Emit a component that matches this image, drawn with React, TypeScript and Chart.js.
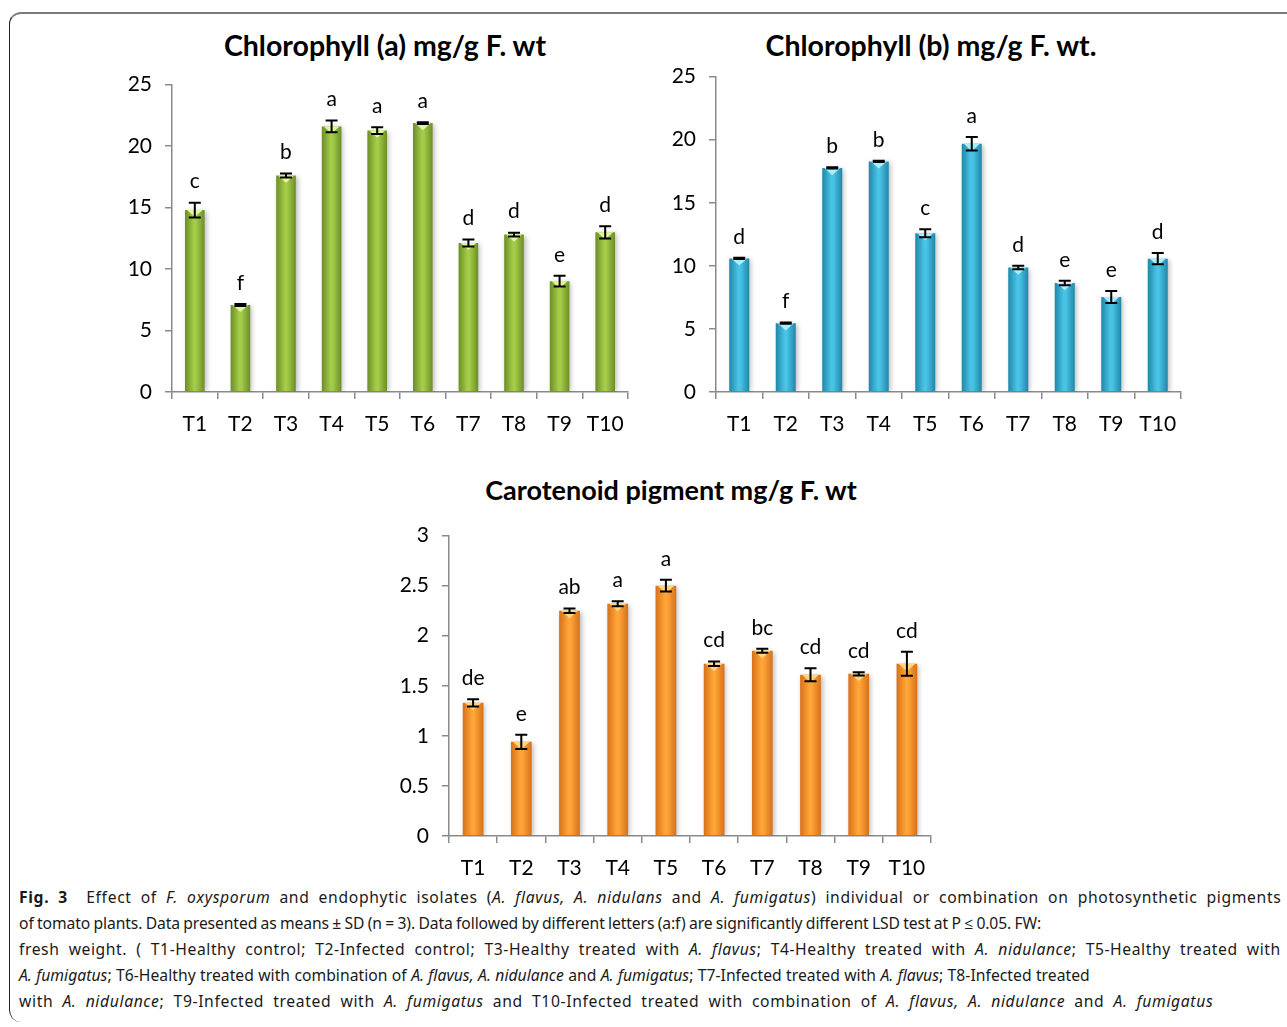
import React, { useEffect, useLayoutEffect, useRef } from "react";
import { Chart, registerables } from "chart.js";

Chart.register(...registerables);

const categories = ["T1", "T2", "T3", "T4", "T5", "T6", "T7", "T8", "T9", "T10"];

const chlAValues = [14.8, 7.08, 17.6, 21.6, 21.26, 21.87, 12.12, 12.8, 9.01, 12.99];
const chlAErrors = [0.6, 0.08, 0.16, 0.48, 0.27, 0.07, 0.28, 0.16, 0.44, 0.5];
const chlALetters = ["c", "f", "b", "a", "a", "a", "d", "d", "e", "d"];

const chlBValues = [10.59, 5.45, 17.76, 18.28, 12.59, 19.68, 9.86, 8.64, 7.53, 10.57];
const chlBErrors = [0.05, 0.05, 0.05, 0.05, 0.32, 0.53, 0.14, 0.17, 0.47, 0.45];
const chlBLetters = ["d", "f", "b", "b", "c", "a", "d", "e", "e", "d"];

const carValues = [1.33, 0.94, 2.25, 2.32, 2.5, 1.72, 1.85, 1.61, 1.62, 1.72];
const carErrors = [0.036, 0.07, 0.023, 0.025, 0.058, 0.023, 0.02, 0.065, 0.016, 0.12];
const carLetters = ["de", "e", "ab", "a", "a", "cd", "bc", "cd", "cd", "cd"];

const chlAxisMax = 25;
const chlAxisStep = 5;
const carAxisMax = 3;
const carAxisStep = 0.5;

const FONT = "Lato, 'Open Sans', sans-serif";
const AXIS = "#8a8a8a";

type Palette = { edge: string; mid: string; hi: string };
const GREEN: Palette = { edge: "#6c8e26", mid: "#a4cc48", hi: "#e2f7a2" };
const BLUE: Palette = { edge: "#1f87a8", mid: "#49c4e6", hi: "#a8eefc" };
const ORANGE: Palette = { edge: "#d6701a", mid: "#ffa537", hi: "#ffd57e" };

type PanelProps = {
  left: number;
  top: number;
  width: number;
  height: number;
  yWidth: number;
  padTop: number;
  padRight: number;
  values: number[];
  errors: number[];
  letters: string[];
  max: number;
  step: number;
  palette: Palette;
};

const BAR_PCT = 0.43;

function BarPanel(p: PanelProps) {
  const ref = useRef<HTMLCanvasElement | null>(null);
  useEffect(() => {
    const canvas = ref.current;
    if (!canvas) return;
    const n = p.values.length;
    const overlay = {
      id: "overlay",
      beforeDatasetsDraw(chart: any) {
        const ctx = chart.ctx;
        ctx.save();
        ctx.shadowColor = "rgba(0,0,0,0.28)";
        ctx.shadowBlur = 5;
        ctx.shadowOffsetX = 2;
        ctx.shadowOffsetY = 1;
      },
      afterDatasetsDraw(chart: any) {
        const ctx = chart.ctx;
        ctx.restore();
        const meta = chart.getDatasetMeta(0);
        const ys = chart.scales.y;
        meta.data.forEach((el: any, i: number) => {
          const { x, y, width } = el.getProps(["x", "y", "width"], true);
          ctx.save();
          ctx.fillStyle = p.palette.hi;
          ctx.beginPath();
          ctx.moveTo(x - width / 2 + 2, y);
          ctx.lineTo(x + width / 2 - 2, y);
          ctx.lineTo(x, y + width * 0.36);
          ctx.closePath();
          ctx.fill();
          ctx.restore();
          const v = p.values[i];
          const e = p.errors[i];
          const t = ys.getPixelForValue(v + e);
          const b = ys.getPixelForValue(v - e);
          ctx.save();
          ctx.strokeStyle = "#000";
          ctx.lineWidth = 2;
          ctx.beginPath();
          ctx.moveTo(x, t);
          ctx.lineTo(x, b);
          ctx.moveTo(x - 6, t);
          ctx.lineTo(x + 6, t);
          ctx.moveTo(x - 6, b);
          ctx.lineTo(x + 6, b);
          ctx.stroke();
          ctx.fillStyle = "#000";
          ctx.font = `21px ${FONT}`;
          ctx.textAlign = "center";
          ctx.textBaseline = "middle";
          ctx.fillText(p.letters[i], x, t - 21);
          ctx.restore();
        });
      },
    };
    const chart = new Chart(canvas, {
      type: "bar",
      data: {
        labels: categories,
        datasets: [
          {
            data: p.values,
            backgroundColor: (c: any) => {
              const ch = c.chart;
              const xs = ch.scales && ch.scales.x;
              if (!xs || c.dataIndex === undefined || !xs.width) return p.palette.mid;
              const px = xs.getPixelForValue(c.dataIndex);
              const w = (xs.width / n) * BAR_PCT;
              const g = ch.ctx.createLinearGradient(px - w / 2, 0, px + w / 2, 0);
              g.addColorStop(0, p.palette.edge);
              g.addColorStop(0.45, p.palette.mid);
              g.addColorStop(0.55, p.palette.mid);
              g.addColorStop(1, p.palette.edge);
              return g;
            },
            borderWidth: 0,
            barPercentage: BAR_PCT,
            categoryPercentage: 1,
          },
        ],
      },
      options: {
        responsive: false,
        animation: false,
        devicePixelRatio: 1,
        events: [],
        layout: { padding: { left: 0, right: p.padRight, top: p.padTop, bottom: 0 } },
        plugins: {
          legend: { display: false },
          tooltip: { enabled: false },
          title: { display: false },
        },
        scales: {
          x: {
            offset: true,
            grid: {
              offset: true,
              drawOnChartArea: false,
              drawTicks: true,
              tickLength: 7,
              color: AXIS,
              lineWidth: 1.5,
            },
            border: { color: AXIS, width: 1.5 },
            ticks: {
              color: "#000",
              font: { family: FONT, size: 21 },
              padding: 13,
              maxRotation: 0,
              autoSkip: false,
            },
            afterFit: (s: any) => {
              s.height = 47;
            },
          },
          y: {
            min: 0,
            max: p.max,
            ticks: {
              stepSize: p.step,
              color: "#000",
              font: { family: FONT, size: 21 },
              padding: 13,
              callback: (v: any) => String(Number(v)),
            },
            grid: {
              drawOnChartArea: false,
              drawTicks: true,
              tickLength: 7,
              color: AXIS,
              lineWidth: 1.5,
            },
            border: { color: AXIS, width: 1.5 },
            afterFit: (s: any) => {
              s.width = p.yWidth;
            },
          },
        },
      } as any,
      plugins: [overlay],
    });
    const fonts: any = (document as any).fonts;
    if (fonts && fonts.load) {
      Promise.all([fonts.load(`21px Lato`), fonts.load(`bold 21px Lato`)])
        .then(() => {
          if ((chart as any).ctx) chart.update();
        })
        .catch(() => {});
    }
    return () => chart.destroy();
  }, []);
  return (
    <canvas
      ref={ref}
      width={p.width}
      height={p.height}
      style={{ position: "absolute", left: p.left, top: p.top, width: p.width, height: p.height }}
    />
  );
}

const titleStyle = (cx: number, cy: number, size: number): React.CSSProperties => ({
  position: "absolute",
  left: cx,
  top: cy - 16,
  height: 32,
  lineHeight: "32px",
  transform: "translateX(-50%)",
  whiteSpace: "nowrap",
  fontFamily: FONT,
  fontWeight: 700,
  fontSize: size,
  color: "#000",
});

const CAP_FONT = "'Noto Sans', 'Open Sans', sans-serif";

const captionWidths = [1262, 1022, 1262, 1071, 1194];

function CaptionLine(props: { target: number; children: React.ReactNode }) {
  const ref = useRef<HTMLSpanElement | null>(null);
  useLayoutEffect(() => {
    const el = ref.current;
    if (!el) return;
    const apply = () => {
      el.style.letterSpacing = "0px";
      el.style.wordSpacing = "0px";
      const w = el.offsetWidth;
      const text = el.textContent || "";
      const nChars = text.length;
      const nSpaces = (text.match(/\s/g) || []).length || 1;
      if (w > 0 && nChars > 0) {
        const adj = props.target - w;
        const ls = (adj * 0.5) / nChars;
        el.style.letterSpacing = `${ls}px`;
        el.style.wordSpacing = `${(adj * 0.5) / nSpaces}px`;
      }
    };
    apply();
    const fonts: any = (document as any).fonts;
    if (fonts && fonts.ready) fonts.ready.then(apply);
  }, []);
  return (
    <div style={{ height: 26, lineHeight: "26px", whiteSpace: "nowrap" }}>
      <span ref={ref} style={{ display: "inline-block" }}>
        {props.children}
      </span>
    </div>
  );
}

export default function App() {
  return (
    <div
      style={{
        position: "absolute",
        left: 0,
        top: 0,
        width: 1287,
        height: 1027,
        overflow: "hidden",
        background: "#fff",
      }}
    >
      <div
        style={{
          position: "absolute",
          left: 9,
          top: 12,
          width: 1320,
          height: 1010,
          borderLeft: "1.5px solid #222",
          borderTop: "2px solid #7a7a7a",
          borderTopLeftRadius: 12,
          borderBottomLeftRadius: 12,
          boxSizing: "border-box",
        }}
      />
      <div style={titleStyle(385, 45, 28.5)}>Chlorophyll (a) mg/g F. wt</div>
      <div style={titleStyle(931, 45, 28.5)}>Chlorophyll (b) mg/g F. wt.</div>
      <div style={titleStyle(671, 490, 27)}>Carotenoid pigment mg/g F. wt</div>

      <BarPanel
        left={90}
        top={59}
        width={570}
        height={380}
        yWidth={82}
        padTop={18}
        padRight={32}
        values={chlAValues}
        errors={chlAErrors}
        letters={chlALetters}
        max={chlAxisMax}
        step={chlAxisStep}
        palette={GREEN}
      />
      <BarPanel
        left={636}
        top={51}
        width={575}
        height={388}
        yWidth={80}
        padTop={20}
        padRight={30}
        values={chlBValues}
        errors={chlBErrors}
        letters={chlBLetters}
        max={chlAxisMax}
        step={chlAxisStep}
        palette={BLUE}
      />
      <BarPanel
        left={360}
        top={510}
        width={600}
        height={373}
        yWidth={89}
        padTop={18}
        padRight={29}
        values={carValues}
        errors={carErrors}
        letters={carLetters}
        max={carAxisMax}
        step={carAxisStep}
        palette={ORANGE}
      />

      <div
        style={{
          position: "absolute",
          left: 19,
          top: 884,
          width: 1290,
          fontFamily: CAP_FONT,
          fontSize: 15.7,
          color: "#1a1a1a",
        }}
      >
        <CaptionLine target={captionWidths[0]}>
          <b>Fig. 3</b>&nbsp; Effect of <i>F. oxysporum</i> and endophytic isolates (<i>A. flavus, A. nidulans</i> and{" "}
          <i>A. fumigatus</i>) individual or combination on photosynthetic pigments
        </CaptionLine>
        <CaptionLine target={captionWidths[1]}>
          of tomato plants. Data presented as means ± SD (n = 3). Data followed by different letters (a:f) are
          significantly different LSD test at P ≤ 0.05. FW:
        </CaptionLine>
        <CaptionLine target={captionWidths[2]}>
          fresh weight. ( T1-Healthy control; T2-Infected control; T3-Healthy treated with <i>A. flavus</i>; T4-Healthy
          treated with <i>A. nidulance</i>; T5-Healthy treated with
        </CaptionLine>
        <CaptionLine target={captionWidths[3]}>
          <i>A. fumigatus</i>; T6-Healthy treated with combination of <i>A. flavus, A. nidulance</i> and{" "}
          <i>A. fumigatus</i>; T7-Infected treated with <i>A. flavus</i>; T8-Infected treated
        </CaptionLine>
        <CaptionLine target={captionWidths[4]}>
          with <i>A. nidulance</i>; T9-Infected treated with <i>A. fumigatus</i> and T10-Infected treated with
          combination of <i>A. flavus, A. nidulance</i> and <i>A. fumigatus</i>
        </CaptionLine>
      </div>
    </div>
  );
}
